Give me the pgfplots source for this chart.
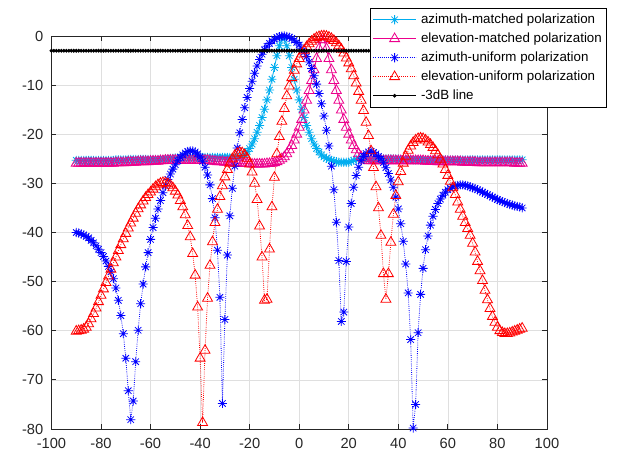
\documentclass[border=0pt]{standalone}
\usepackage{fontspec}
\setmainfont{Liberation Sans}
\usepackage{pgfplots}
\pgfplotsset{compat=1.18}
\definecolor{mgray}{RGB}{38,38,38}
\definecolor{gridc}{RGB}{223,223,223}
\pgfdeclareplotmark{mstar}{%
  \pgfpathmoveto{\pgfpoint{-\pgfplotmarksize}{0pt}}%
  \pgfpathlineto{\pgfpoint{\pgfplotmarksize}{0pt}}%
  \pgfpathmoveto{\pgfpoint{0pt}{-\pgfplotmarksize}}%
  \pgfpathlineto{\pgfpoint{0pt}{\pgfplotmarksize}}%
  \pgfpathmoveto{\pgfpoint{-0.707\pgfplotmarksize}{-0.707\pgfplotmarksize}}%
  \pgfpathlineto{\pgfpoint{0.707\pgfplotmarksize}{0.707\pgfplotmarksize}}%
  \pgfpathmoveto{\pgfpoint{-0.707\pgfplotmarksize}{0.707\pgfplotmarksize}}%
  \pgfpathlineto{\pgfpoint{0.707\pgfplotmarksize}{-0.707\pgfplotmarksize}}%
  \pgfusepathqstroke}

\pgfplotstableread{
x y
-90 -25.3
-89 -25.3
-88 -25.3
-87 -25.3
-86 -25.3
-85 -25.3
-84 -25.3
-83 -25.3
-82 -25.3
-81 -25.3
-80 -25.3
-79 -25.3
-78 -25.3
-77 -25.3
-76 -25.3
-75 -25.3
-74 -25.2
-73 -25.2
-72 -25.2
-71 -25.2
-70 -25.2
-69 -25.1
-68 -25.1
-67 -25.1
-66 -25.1
-65 -25.1
-64 -25.1
-63 -25.1
-62 -25.1
-61 -25.1
-60 -25.1
-59 -25.1
-58 -25.1
-57 -25.1
-56 -25.1
-55 -25.1
-54 -25.0
-53 -25.0
-52 -24.9
-51 -24.9
-50 -24.8
-49 -24.8
-48 -24.7
-47 -24.7
-46 -24.7
-45 -24.7
-44 -24.7
-43 -24.7
-42 -24.7
-41 -24.7
-40 -24.7
-39 -24.7
-38 -24.7
-37 -24.7
-36 -24.7
-35 -24.7
-34 -24.7
-33 -24.7
-32 -24.7
-31 -24.7
-30 -24.7
-29 -24.7
-28 -24.7
-27 -24.8
-26 -24.8
-25 -24.8
-24 -24.7
-23 -24.5
-22 -24.1
-21 -23.5
-20 -22.9
-19 -22.0
-18 -20.9
-17 -19.6
-16 -18.2
-15 -16.6
-14 -14.9
-13 -13.0
-12 -11.0
-11 -8.8
-10 -6.4
-9 -4.0
-8 -2.0
-7 -0.5
-6 -0.5
-5 -2.0
-4 -4.0
-3 -6.4
-2 -8.8
-1 -11.0
0 -13.0
1 -14.9
2 -16.6
3 -18.2
4 -19.6
5 -20.9
6 -22.0
7 -22.9
8 -23.6
9 -24.2
10 -24.6
11 -24.9
12 -25.1
13 -25.3
14 -25.5
15 -25.6
16 -25.7
17 -25.7
18 -25.7
19 -25.7
20 -25.7
21 -25.5
22 -25.3
23 -25.1
24 -25.0
25 -25.0
26 -25.0
27 -25.0
28 -25.0
29 -25.0
30 -25.0
31 -25.0
32 -25.0
33 -25.0
34 -25.0
35 -25.0
36 -25.0
37 -25.0
38 -25.0
39 -25.0
40 -25.0
41 -25.1
42 -25.1
43 -25.1
44 -25.1
45 -25.1
46 -25.2
47 -25.2
48 -25.2
49 -25.2
50 -25.2
51 -25.2
52 -25.2
53 -25.2
54 -25.2
55 -25.2
56 -25.2
57 -25.2
58 -25.2
59 -25.2
60 -25.2
61 -25.2
62 -25.2
63 -25.2
64 -25.2
65 -25.2
66 -25.2
67 -25.2
68 -25.2
69 -25.2
70 -25.2
71 -25.2
72 -25.2
73 -25.2
74 -25.2
75 -25.2
76 -25.2
77 -25.2
78 -25.2
79 -25.2
80 -25.2
81 -25.2
82 -25.2
83 -25.2
84 -25.2
85 -25.2
86 -25.2
87 -25.2
88 -25.2
89 -25.2
90 -25.2
}\azm

\pgfplotstableread{
x y
-90 -25.9
-89 -25.9
-88 -25.9
-87 -25.9
-86 -25.9
-85 -25.9
-84 -25.9
-83 -25.9
-82 -25.9
-81 -25.9
-80 -25.9
-79 -25.9
-78 -25.9
-77 -25.9
-76 -25.9
-75 -25.9
-74 -25.8
-73 -25.8
-72 -25.8
-71 -25.8
-70 -25.8
-69 -25.7
-68 -25.7
-67 -25.7
-66 -25.7
-65 -25.6
-64 -25.6
-63 -25.6
-62 -25.6
-61 -25.6
-60 -25.5
-59 -25.5
-58 -25.5
-57 -25.5
-56 -25.4
-55 -25.4
-54 -25.3
-53 -25.3
-52 -25.3
-51 -25.3
-50 -25.3
-49 -25.3
-48 -25.3
-47 -25.3
-46 -25.3
-45 -25.3
-44 -25.3
-43 -25.3
-42 -25.3
-41 -25.3
-40 -25.3
-39 -25.3
-38 -25.3
-37 -25.3
-36 -25.4
-35 -25.5
-34 -25.5
-33 -25.6
-32 -25.6
-31 -25.6
-30 -25.7
-29 -25.7
-28 -25.7
-27 -25.8
-26 -25.8
-25 -25.9
-24 -25.9
-23 -26.0
-22 -26.0
-21 -26.0
-20 -26.0
-19 -26.1
-18 -26.1
-17 -26.1
-16 -26.1
-15 -26.1
-14 -26.1
-13 -26.0
-12 -26.0
-11 -25.9
-10 -25.8
-9 -25.6
-8 -25.3
-7 -25.0
-6 -24.6
-5 -24.0
-4 -23.2
-3 -22.3
-2 -21.2
-1 -20.0
0 -18.6
1 -17.0
2 -15.1
3 -13.1
4 -11.1
5 -9.1
6 -6.9
7 -4.6
8 -2.6
9 -0.8
10 -0.8
11 -2.6
12 -4.6
13 -6.9
14 -9.1
15 -11.1
16 -13.1
17 -15.1
18 -17.0
19 -18.6
20 -20.0
21 -21.2
22 -22.3
23 -23.2
24 -24.0
25 -24.6
26 -25.0
27 -25.3
28 -25.4
29 -25.4
30 -25.4
31 -25.4
32 -25.4
33 -25.4
34 -25.4
35 -25.4
36 -25.4
37 -25.4
38 -25.4
39 -25.4
40 -25.4
41 -25.4
42 -25.4
43 -25.4
44 -25.4
45 -25.4
46 -25.4
47 -25.4
48 -25.4
49 -25.4
50 -25.4
51 -25.5
52 -25.5
53 -25.5
54 -25.5
55 -25.5
56 -25.6
57 -25.6
58 -25.6
59 -25.6
60 -25.6
61 -25.6
62 -25.6
63 -25.6
64 -25.6
65 -25.6
66 -25.7
67 -25.7
68 -25.7
69 -25.7
70 -25.7
71 -25.7
72 -25.8
73 -25.8
74 -25.8
75 -25.8
76 -25.8
77 -25.8
78 -25.8
79 -25.8
80 -25.8
81 -25.8
82 -25.8
83 -25.8
84 -25.8
85 -25.8
86 -25.8
87 -25.9
88 -25.9
89 -25.9
90 -25.9
}\elm

\pgfplotstableread{
x y
-90 -40.0
-89 -40.1
-88 -40.3
-87 -40.5
-86 -40.8
-85 -41.1
-84 -41.6
-83 -42.1
-82 -42.7
-81 -43.4
-80 -44.1
-79 -44.9
-78 -45.8
-77 -46.9
-76 -48.0
-75 -49.4
-74 -51.3
-73 -53.8
-72 -56.9
-71 -60.6
-70 -65.6
-69 -72.2
-68 -78.1
-67 -74.3
-66 -66.3
-65 -59.9
-64 -54.5
-63 -50.5
-62 -47.0
-61 -44.1
-60 -41.4
-59 -39.0
-58 -37.1
-57 -35.2
-56 -33.5
-55 -31.9
-54 -30.5
-53 -29.2
-52 -28.1
-51 -27.1
-50 -26.2
-49 -25.4
-48 -24.7
-47 -24.2
-46 -23.8
-45 -23.5
-44 -23.4
-43 -23.4
-42 -23.6
-41 -24.0
-40 -24.6
-39 -25.5
-38 -26.7
-37 -28.3
-36 -30.3
-35 -33.1
-34 -37.0
-33 -43.6
-32 -53.2
-31 -74.8
-30 -57.7
-29 -44.6
-28 -36.6
-27 -31.0
-26 -26.5
-25 -22.8
-24 -19.7
-23 -17.0
-22 -14.6
-21 -12.5
-20 -10.7
-19 -9.2
-18 -7.6
-17 -6.1
-16 -4.8
-15 -3.7
-14 -2.8
-13 -2.1
-12 -1.5
-11 -1.0
-10 -0.64
-9 -0.34
-8 -0.14
-7 -0.03
-6 0
-5 -0.08
-4 -0.24
-3 -0.49
-2 -0.85
-1 -1.3
0 -1.85
1 -2.5
2 -3.3
3 -4.2
4 -5.3
5 -6.6
6 -8.1
7 -9.8
8 -11.7
9 -13.8
10 -16.3
11 -19.2
12 -22.4
13 -26.5
14 -31.3
15 -37.9
16 -45.7
17 -58.1
18 -56.2
19 -45.9
20 -38.9
21 -34.1
22 -30.8
23 -28.4
24 -26.7
25 -25.4
26 -24.5
27 -23.9
28 -23.6
29 -23.5
30 -23.7
31 -24.0
32 -24.5
33 -25.0
34 -25.8
35 -26.8
36 -28.0
37 -29.3
38 -30.8
39 -32.8
40 -35.2
41 -38.2
42 -41.8
43 -46.4
44 -52.3
45 -61.8
46 -79.8
47 -75.0
48 -60.4
49 -52.6
50 -47.3
51 -43.5
52 -40.7
53 -38.5
54 -36.7
55 -35.3
56 -34.1
57 -33.2
58 -32.4
59 -31.8
60 -31.3
61 -31.0
62 -30.7
63 -30.5
64 -30.4
65 -30.3
66 -30.3
67 -30.4
68 -30.5
69 -30.7
70 -30.9
71 -31.0
72 -31.3
73 -31.5
74 -31.8
75 -32.0
76 -32.3
77 -32.5
78 -32.8
79 -33.0
80 -33.3
81 -33.5
82 -33.7
83 -33.9
84 -34.1
85 -34.3
86 -34.4
87 -34.6
88 -34.7
89 -34.8
90 -35.0
}\azu

\pgfplotstableread{
x y
-90 -60.1
-89 -60.0
-88 -59.9
-87 -59.7
-86 -59.3
-85 -58.6
-84 -57.6
-83 -56.5
-82 -55.4
-81 -54.1
-80 -52.8
-79 -51.5
-78 -50.2
-77 -48.9
-76 -47.5
-75 -46.2
-74 -45.0
-73 -43.7
-72 -42.5
-71 -41.3
-70 -40.2
-69 -39.1
-68 -38.1
-67 -37.1
-66 -36.1
-65 -35.2
-64 -34.4
-63 -33.6
-62 -32.9
-61 -32.3
-60 -31.8
-59 -31.2
-58 -30.7
-57 -30.3
-56 -30.0
-55 -29.85
-54 -29.9
-53 -30.1
-52 -30.4
-51 -30.9
-50 -31.6
-49 -32.4
-48 -33.5
-47 -34.8
-46 -36.4
-45 -38.6
-44 -40.9
-43 -44.3
-42 -48.7
-41 -55.2
-40 -65.6
-39 -78.7
-38 -64.0
-37 -53.4
-36 -46.7
-35 -41.9
-34 -38.0
-33 -35.3
-32 -32.7
-31 -30.5
-30 -28.7
-29 -27.2
-28 -25.9
-27 -25.0
-26 -24.3
-25 -23.9
-24 -23.7
-23 -23.8
-22 -24.2
-21 -24.9
-20 -26.1
-19 -27.7
-18 -30.0
-17 -33.3
-16 -38.7
-15 -45.0
-14 -53.8
-13 -53.6
-12 -43.4
-11 -34.8
-10 -28.8
-9 -24.0
-8 -20.5
-7 -17.4
-6 -14.8
-5 -12.2
-4 -10.2
-3 -8.5
-2 -7.0
-1 -5.7
0 -4.6
1 -3.7
2 -2.9
3 -2.2
4 -1.6
5 -1.1
6 -0.67
7 -0.36
8 -0.15
9 -0.03
10 0
11 -0.08
12 -0.25
13 -0.53
14 -0.92
15 -1.40
16 -2.0
17 -2.7
18 -3.5
19 -4.5
20 -5.5
21 -6.7
22 -8.1
23 -9.6
24 -11.3
25 -13.1
26 -15.2
27 -17.6
28 -20.3
29 -23.4
30 -26.8
31 -30.7
32 -35.0
33 -40.6
34 -48.4
35 -53.6
36 -48.4
37 -42.0
38 -36.3
39 -32.5
40 -29.7
41 -27.6
42 -25.9
43 -24.5
44 -23.3
45 -22.4
46 -21.7
47 -21.2
48 -20.9
49 -20.8
50 -20.9
51 -21.2
52 -21.6
53 -22.1
54 -22.7
55 -23.4
56 -24.2
57 -25.1
58 -26.1
59 -27.2
60 -28.4
61 -29.6
62 -30.9
63 -32.3
64 -33.8
65 -35.3
66 -36.7
67 -38.0
68 -39.2
69 -40.6
70 -42.2
71 -44.0
72 -45.9
73 -47.8
74 -49.8
75 -51.8
76 -53.7
77 -55.5
78 -57.1
79 -58.3
80 -59.3
81 -60.0
82 -60.4
83 -60.6
84 -60.6
85 -60.5
86 -60.3
87 -60.1
88 -59.9
89 -59.7
90 -59.5
}\elu

\begin{document}
\begin{tikzpicture}
\useasboundingbox (-38.6pt,-20.25pt) rectangle (424.9pt,321.75pt);
\begin{axis}[
  width=371.6pt, height=294.75pt, scale only axis,
  xmin=-100, xmax=100, ymin=-80, ymax=0,
  xtick={-100,-80,-60,-40,-20,0,20,40,60,80,100},
  ytick={-80,-70,-60,-50,-40,-30,-20,-10,0},
  grid=major,
  major grid style={line width=0.5pt, draw=gridc},
  axis line style={draw=mgray, line width=0.6pt},
  tick style={draw=mgray, line width=0.6pt},
  major tick length=3.7pt,
  tick align=inside,
  tick label style={font=\fontsize{11}{13}\selectfont, text=mgray},
  xticklabel style={yshift=-3.4pt},
  yticklabel style={xshift=-2.6pt},
  /pgf/number format/assume math mode=true,
  clip=false,
  legend cell align=left,
  legend image code/.code={\draw[mark repeat=2,mark phase=2,#1] plot coordinates {(0pt,0pt) (16pt,0pt) (32pt,0pt)};},
  legend style={at={(1.1211,1.0712)}, anchor=north east, draw=black, line width=0.6pt, fill=white,
    inner xsep=1.5pt, inner ysep=1.5pt, font=\fontsize{10}{12}\selectfont,
    nodes={inner sep=2pt, text height=7.5pt, text depth=2.5pt},
    row sep=0.25pt, column sep=1.5pt},
]
\addplot[color=cyan, line width=0.6pt, mark=mstar, mark size=3.4pt, mark options={solid}] table {\azm};
\addlegendentry{azimuth-matched polarization}
\addplot[color=magenta, line width=0.6pt, mark=triangle, mark size=4.3pt, mark options={solid}] table {\elm};
\addlegendentry{elevation-matched polarization}
\addplot[color=blue, line width=0.6pt, densely dotted, mark=mstar, mark size=3.4pt, mark options={solid}] table {\azu};
\addlegendentry{azimuth-uniform polarization}
\addplot[color=red, line width=0.6pt, densely dotted, mark=triangle, mark size=4.3pt, mark options={solid}] table {\elu};
\addlegendentry{elevation-uniform polarization}
\addplot[color=black, line width=0.6pt, mark=*, mark size=1.1pt] coordinates {
(-100,-3) (-99,-3) (-98,-3) (-97,-3) (-96,-3) (-95,-3) (-94,-3) (-93,-3) (-92,-3) (-91,-3)
(-90,-3) (-89,-3) (-88,-3) (-87,-3) (-86,-3) (-85,-3) (-84,-3) (-83,-3) (-82,-3) (-81,-3)
(-80,-3) (-79,-3) (-78,-3) (-77,-3) (-76,-3) (-75,-3) (-74,-3) (-73,-3) (-72,-3) (-71,-3)
(-70,-3) (-69,-3) (-68,-3) (-67,-3) (-66,-3) (-65,-3) (-64,-3) (-63,-3) (-62,-3) (-61,-3)
(-60,-3) (-59,-3) (-58,-3) (-57,-3) (-56,-3) (-55,-3) (-54,-3) (-53,-3) (-52,-3) (-51,-3)
(-50,-3) (-49,-3) (-48,-3) (-47,-3) (-46,-3) (-45,-3) (-44,-3) (-43,-3) (-42,-3) (-41,-3)
(-40,-3) (-39,-3) (-38,-3) (-37,-3) (-36,-3) (-35,-3) (-34,-3) (-33,-3) (-32,-3) (-31,-3)
(-30,-3) (-29,-3) (-28,-3) (-27,-3) (-26,-3) (-25,-3) (-24,-3) (-23,-3) (-22,-3) (-21,-3)
(-20,-3) (-19,-3) (-18,-3) (-17,-3) (-16,-3) (-15,-3) (-14,-3) (-13,-3) (-12,-3) (-11,-3)
(-10,-3) (-9,-3) (-8,-3) (-7,-3) (-6,-3) (-5,-3) (-4,-3) (-3,-3) (-2,-3) (-1,-3)
(0,-3) (1,-3) (2,-3) (3,-3) (4,-3) (5,-3) (6,-3) (7,-3) (8,-3) (9,-3)
(10,-3) (11,-3) (12,-3) (13,-3) (14,-3) (15,-3) (16,-3) (17,-3) (18,-3) (19,-3)
(20,-3) (21,-3) (22,-3) (23,-3) (24,-3) (25,-3) (26,-3) (27,-3) (28,-3) (29,-3)
(30,-3) (31,-3) (32,-3) (33,-3) (34,-3) (35,-3) (36,-3) (37,-3) (38,-3) (39,-3)
(40,-3) (41,-3) (42,-3) (43,-3) (44,-3) (45,-3) (46,-3) (47,-3) (48,-3) (49,-3)
(50,-3) (51,-3) (52,-3) (53,-3) (54,-3) (55,-3) (56,-3) (57,-3) (58,-3) (59,-3)
(60,-3) (61,-3) (62,-3) (63,-3) (64,-3) (65,-3) (66,-3) (67,-3) (68,-3) (69,-3)
(70,-3) (71,-3) (72,-3) (73,-3) (74,-3) (75,-3) (76,-3) (77,-3) (78,-3) (79,-3)
(80,-3) (81,-3) (82,-3) (83,-3) (84,-3) (85,-3) (86,-3) (87,-3) (88,-3) (89,-3)
(90,-3) (91,-3) (92,-3) (93,-3) (94,-3) (95,-3) (96,-3) (97,-3) (98,-3) (99,-3) (100,-3)
};
\addlegendentry{-3dB line}
\end{axis}
\end{tikzpicture}
\end{document}
